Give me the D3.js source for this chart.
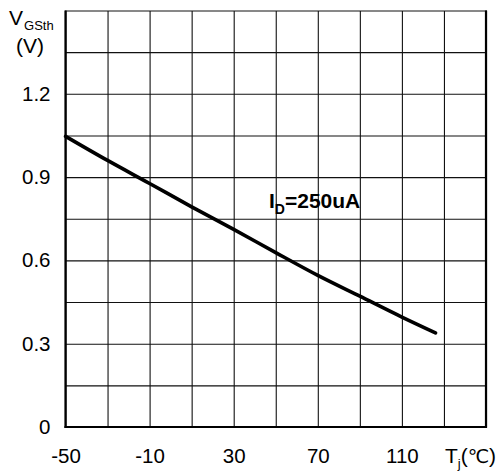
<!DOCTYPE html>
<html><head><meta charset="utf-8">
<script src="https://cdn.jsdelivr.net/npm/d3@7/dist/d3.min.js"></script>
<style>
html,body{margin:0;padding:0;background:#fff;}
svg{display:block;font-family:"Liberation Sans",Arial,sans-serif;}
</style></head>
<body>
<script>
// Data
const tempC = [-50, -30, -10, 10, 30, 50, 70, 90, 110, 126];
const vgsth = [1.047, 0.96, 0.877, 0.793, 0.712, 0.628, 0.546, 0.471, 0.396, 0.339];
const xTickLabels = [-50, -10, 30, 70, 110];
const yTickLabels = [0, 0.3, 0.6, 0.9, 1.2];
const xGrid = [-50, -30, -10, 10, 30, 50, 70, 90, 110, 130, 150];
const yGrid = [0, 0.15, 0.3, 0.45, 0.6, 0.75, 0.9, 1.05, 1.2, 1.35, 1.5];

const W = 501, H = 475;
const L = 65.5, R = 486, T = 10.5, B = 427;
const svg = d3.select("body").append("svg").attr("width", W).attr("height", H);

const x = d3.scaleLinear().domain([-50, 150]).range([L, R]);
const y = d3.scaleLinear().domain([0, 1.5]).range([B, T]);

// grid
svg.append("g").attr("transform", `translate(0,${B})`)
  .call(d3.axisBottom(x).tickValues(xGrid).tickSize(-(B - T)).tickFormat(""))
  .call(g => g.select(".domain").remove())
  .call(g => g.selectAll("line").attr("stroke", "#111").attr("stroke-width", 1.1));
svg.append("g").attr("transform", `translate(${L},0)`)
  .call(d3.axisLeft(y).tickValues(yGrid).tickSize(-(R - L)).tickFormat(""))
  .call(g => g.select(".domain").remove())
  .call(g => g.selectAll("line").attr("stroke", "#111").attr("stroke-width", 1.1));

// frame
svg.append("line").attr("x1", L).attr("x2", R).attr("y1", T).attr("y2", T).attr("stroke", "#888").attr("stroke-width", 1.2);
svg.append("line").attr("x1", L).attr("x2", L).attr("y1", T).attr("y2", B + 1).attr("stroke", "#000").attr("stroke-width", 2.2);
svg.append("line").attr("x1", R).attr("x2", R).attr("y1", T).attr("y2", B + 1).attr("stroke", "#000").attr("stroke-width", 2.2);
svg.append("line").attr("x1", L - 1).attr("x2", R + 1).attr("y1", B).attr("y2", B).attr("stroke", "#000").attr("stroke-width", 2.2);

// tick labels
const yAx = svg.append("g").attr("transform", `translate(${L},0)`)
  .call(d3.axisLeft(y).tickValues(yTickLabels).tickSize(0).tickPadding(15)
    .tickFormat(d => d === 0 ? "0" : d3.format(".1f")(d)));
yAx.select(".domain").remove();
yAx.selectAll("text").attr("font-size", 20.5).attr("fill", "#000").attr("font-family", "Liberation Sans, Arial, sans-serif");

const xAx = svg.append("g").attr("transform", `translate(0,${B})`)
  .call(d3.axisBottom(x).tickValues(xTickLabels).tickSize(0).tickPadding(21).tickFormat(d => String(d)));
xAx.select(".domain").remove();
xAx.selectAll("text").attr("font-size", 20.5).attr("fill", "#000").attr("font-family", "Liberation Sans, Arial, sans-serif");

// curve
const pts = tempC.map((t, i) => [t, vgsth[i]]);
svg.append("path").datum(pts)
  .attr("d", d3.line().x(d => x(d[0])).y(d => y(d[1])).curve(d3.curveMonotoneX))
  .attr("fill", "none").attr("stroke", "#000").attr("stroke-width", 3.6).attr("stroke-linecap", "round");

// axis titles
const yt = svg.append("text").attr("x", 9).attr("y", 25).attr("font-size", 21).attr("fill", "#000");
yt.append("tspan").text("V");
yt.append("tspan").attr("font-size", 13).attr("dx", 1).attr("dy", 5).text("GSth");
svg.append("text").attr("x", 16).attr("y", 53).attr("font-size", 21).attr("fill", "#000").text("(V)");

const xt = svg.append("text").attr("x", 445).attr("y", 463).attr("font-size", 21).attr("fill", "#000");
xt.append("tspan").text("T");
xt.append("tspan").attr("font-size", 13).attr("dy", 5).text("j");
xt.append("tspan").attr("dy", -5).text("(");
xt.append("tspan").attr("font-size", 19).attr("font-family", "DejaVu Sans").text("℃");
xt.append("tspan").text(")");

// annotation
const an = svg.append("text").attr("x", 269).attr("y", 208).attr("font-size", 21).attr("font-weight", "bold").attr("fill", "#000");
an.append("tspan").text("I");
an.append("tspan").attr("font-size", 14).attr("dy", 6).text("D");
an.append("tspan").attr("dy", -6).text("=250uA");
</script>
</body></html>
